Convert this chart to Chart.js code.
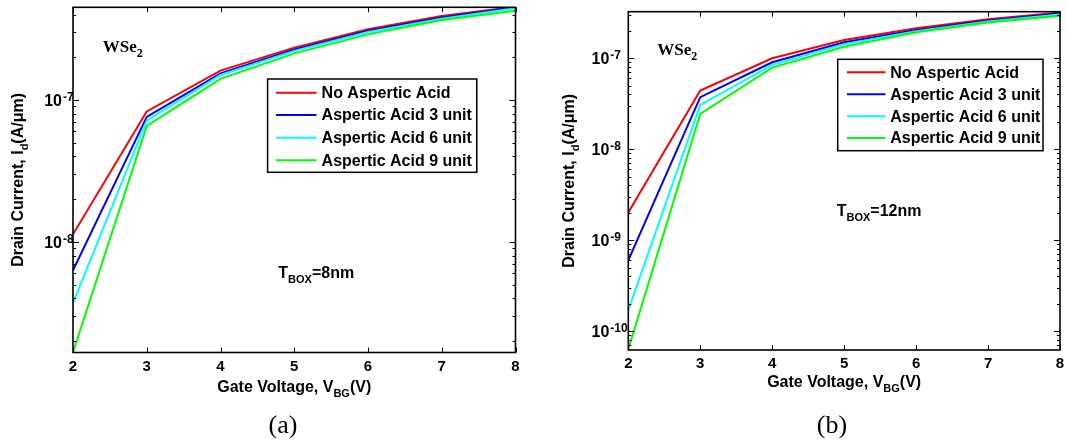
<!DOCTYPE html>
<html>
<head>
<meta charset="utf-8">
<script src="https://cdn.jsdelivr.net/npm/chart.js@4.4.1/dist/chart.umd.min.js"></script>
<style>
  body { margin: 0; background: #fff; }
  #wrap { position: relative; width: 1066px; height: 444px; overflow: hidden; }
  canvas { position: absolute; top: 0; }
  .cap { position: absolute; top: 410px; font-family: "Liberation Serif", "Times New Roman", serif; font-size: 26px; transform: translateX(-50%); }
</style>
</head>
<body>
<div id="wrap">
  <canvas id="chartA" width="530" height="444" style="left:0"></canvas>
  <canvas id="chartB" width="536" height="444" style="left:530px"></canvas>
  <div class="cap" style="left:283px">(a)</div>
  <div class="cap" style="left:832px">(b)</div>
</div>
<script>
const gateVoltage = [2, 3, 4, 5, 6, 7, 8];
const seriesNames = ["No Aspertic Acid", "Aspertic Acid 3 unit", "Aspertic Acid 6 unit", "Aspertic Acid 9 unit"];
const lineColors = ["#ff0000", "#0000ff", "#00ffff", "#00ff00"];

// (a) T_BOX = 8nm, drain current in A/um
const noAcid8 = [1.13e-8, 8.3e-8, 1.61e-7, 2.34e-7, 3.15e-7, 3.91e-7, 4.54e-7];
const acid3_8 = [6.3e-9, 7.6e-8, 1.54e-7, 2.27e-7, 3.08e-7, 3.82e-7, 4.5e-7];
const acid6_8 = [3.7e-9, 7.15e-8, 1.5e-7, 2.22e-7, 3.01e-7, 3.74e-7, 4.43e-7];
const acid9_8 = [1.66e-9, 6.56e-8, 1.41e-7, 2.13e-7, 2.9e-7, 3.66e-7, 4.26e-7];

// (b) T_BOX = 12nm
const noAcid12 = [2.02e-9, 4.41e-8, 1.0e-7, 1.59e-7, 2.14e-7, 2.69e-7, 3.18e-7];
const acid3_12 = [6.0e-10, 3.73e-8, 9.04e-8, 1.5e-7, 2.05e-7, 2.6e-7, 3.1e-7];
const acid6_12 = [1.7e-10, 3.07e-8, 8.45e-8, 1.43e-7, 1.98e-7, 2.53e-7, 3.02e-7];
const acid9_12 = [6.3e-11, 2.44e-8, 7.89e-8, 1.34e-7, 1.93e-7, 2.47e-7, 2.94e-7];

// y tick labels (decades) per panel
const decadesA = [1e-8, 1e-7];
const decadesB = [1e-10, 1e-9, 1e-8, 1e-7];

const SANS = '"Liberation Sans", Arial, Helvetica, sans-serif';
const SERIF = '"Liberation Serif", "Times New Roman", serif';

// draw text made of normal + subscript pieces
function richText(ctx, parts, x, y, align, size, subSize, family) {
    const mainFont = "bold " + size + "px " + family;
    const subFont = "bold " + subSize + "px " + family;
    let w = 0;
    parts.forEach(p => {
        ctx.font = p[1] ? subFont : mainFont;
        w += ctx.measureText(p[0]).width;
    });
    let cx = align === "center" ? x - w / 2 : x;
    ctx.textAlign = "left";
    ctx.textBaseline = "alphabetic";
    parts.forEach(p => {
        ctx.font = p[1] ? subFont : mainFont;
        ctx.fillText(p[0], cx, y + (p[1] ? Math.round(size * 0.32) : 0));
        cx += ctx.measureText(p[0]).width;
    });
}

function drawFrame(chart, p) {
    const ctx = chart.ctx;
    const a = chart.chartArea;
    const xs = chart.scales.x;
    const ys = chart.scales.y;
    ctx.save();
    ctx.strokeStyle = "#000";
    ctx.fillStyle = "#000";

    // tick marks pointing inward, all four sides
    ctx.lineWidth = 1;
    ctx.beginPath();
    gateVoltage.forEach(v => {
        const px = Math.round(xs.getPixelForValue(v)) + 0.5;
        ctx.moveTo(px, a.bottom); ctx.lineTo(px, a.bottom - 5);
        ctx.moveTo(px, a.top); ctx.lineTo(px, a.top + 5);
    });
    const d0 = Math.floor(Math.log10(p.yMin));
    const d1 = Math.ceil(Math.log10(p.yMax));
    for (let d = d0; d <= d1; d++) {
        for (let k = 1; k <= 9; k++) {
            const v = k * Math.pow(10, d);
            if (v < p.yMin * 0.999 || v > p.yMax * 1.001) continue;
            const len = k === 1 ? 6 : 3;
            const py = Math.round(ys.getPixelForValue(v)) + 0.5;
            ctx.moveTo(a.left, py); ctx.lineTo(a.left + len, py);
            ctx.moveTo(a.right, py); ctx.lineTo(a.right - len, py);
        }
    }
    ctx.stroke();

    ctx.lineWidth = 1.6;
    ctx.strokeRect(a.left, a.top, a.right - a.left, a.bottom - a.top);

    // x tick labels
    ctx.font = "bold 15px " + SANS;
    ctx.textAlign = "center";
    ctx.textBaseline = "alphabetic";
    gateVoltage.forEach(v => ctx.fillText(String(v), xs.getPixelForValue(v), a.bottom + 18));

    // y tick labels 10^n
    p.decades.forEach(v => {
        const py = ys.getPixelForValue(v);
        const tx = a.left - p.tenGap;
        ctx.font = "bold 16px " + SANS;
        ctx.textAlign = "right";
        ctx.fillText("10", tx, py + 6);
        ctx.font = "bold 12px " + SANS;
        ctx.textAlign = "left";
        ctx.fillText(String(Math.round(Math.log10(v))), tx + 1, py + 1);
    });

    // axis titles
    const cx = (a.left + a.right) / 2;
    richText(ctx, [["Gate Voltage, V", false], ["BG", true], ["(V)", false]], cx, p.xTitleY, "center", 16, 11, SANS);
    ctx.save();
    ctx.translate(p.yTitleX, (a.top + a.bottom) / 2);
    ctx.rotate(-Math.PI / 2);
    richText(ctx, [["Drain Current, I", false], ["d", true], ["(A/\u03bcm)", false]], 0, 0, "center", 16, 11, SANS);
    ctx.restore();

    // annotations
    richText(ctx, [["WSe", false], ["2", true]], p.wse[0], p.wse[1], "left", 17, 12, SERIF);
    richText(ctx, [["T", false], ["BOX", true], [p.tbox, false]], p.tboxPos[0], p.tboxPos[1], "left", 16, 11, SANS);

    // legend
    const L = p.legend;
    ctx.fillStyle = "#fff";
    ctx.fillRect(L.x0, L.y0, L.x1 - L.x0, L.y1 - L.y0);
    ctx.lineWidth = 1.5;
    ctx.strokeStyle = "#000";
    ctx.strokeRect(L.x0, L.y0, L.x1 - L.x0, L.y1 - L.y0);
    chart.data.datasets.forEach((ds, i) => {
        const ry = L.rows[i];
        ctx.strokeStyle = ds.borderColor;
        ctx.lineWidth = 2;
        ctx.beginPath();
        ctx.moveTo(L.lx0, ry); ctx.lineTo(L.lx1, ry);
        ctx.stroke();
        ctx.fillStyle = "#000";
        ctx.font = "bold 16px " + SANS;
        ctx.textAlign = "left";
        ctx.textBaseline = "middle";
        ctx.fillText(ds.label, L.tx, ry + 1);
    });
    ctx.restore();
}

function makePanel(id, series, p) {
    const datasets = series.map((vals, i) => ({
        label: seriesNames[i],
        data: gateVoltage.map((v, j) => ({ x: v, y: vals[j] })),
        borderColor: lineColors[i],
        borderWidth: 2,
        pointRadius: 0,
        tension: 0,
        fill: false,
        order: series.length - i
    }));
    new Chart(document.getElementById(id).getContext("2d"), {
        type: "line",
        data: { datasets: datasets },
        options: {
            responsive: false,
            animation: false,
            devicePixelRatio: 1,
            layout: { padding: p.pad },
            plugins: { legend: { display: false }, tooltip: { enabled: false } },
            scales: {
                x: { type: "linear", min: 2, max: 8, display: false },
                y: { type: "logarithmic", min: p.yMin, max: p.yMax, display: false }
            }
        },
        plugins: [{ id: "frame", afterDraw: chart => drawFrame(chart, p) }]
    });
}

makePanel("chartA", [noAcid8, acid3_8, acid6_8, acid9_8], {
    yMin: 1.66e-9, yMax: 4.5e-7, decades: decadesA,
    pad: { left: 73, right: 14.5, top: 7.3, bottom: 91.5 },
    tenGap: 11, yTitleX: 23, xTitleY: 392,
    wse: [102.7, 51.7], tbox: "=8nm", tboxPos: [278.3, 278.3],
    legend: { x0: 267.6, x1: 476.8, y0: 79, y1: 172.3, lx0: 276, lx1: 316.5, tx: 321.6, rows: [92.7, 115, 137.7, 160.3] }
});

makePanel("chartB", [noAcid12, acid3_12, acid6_12, acid9_12], {
    yMin: 6.2e-11, yMax: 3.25e-7, decades: decadesB,
    pad: { left: 98.3, right: 6, top: 11.7, bottom: 94 },
    tenGap: 19, yTitleX: 44, xTitleY: 387.3,
    wse: [127.3, 55], tbox: "=12nm", tboxPos: [306.7, 216],
    legend: { x0: 307.7, x1: 513, y0: 59.3, y1: 150.7, lx0: 316.9, lx1: 355.5, tx: 360.2, rows: [72.3, 94.3, 116.3, 138] }
});
</script>
</body>
</html>
